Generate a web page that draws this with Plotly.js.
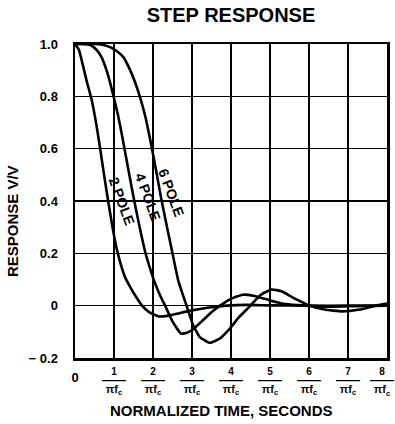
<!DOCTYPE html>
<html><head><meta charset="utf-8">
<script src="https://cdn.plot.ly/plotly-3.0.1.min.js"></script>
<style>html,body{margin:0;padding:0;background:#fff}</style>
</head><body><div id="chart" style="width:395px;height:424px"></div>
<script>
// Normalized time (units of 1/(pi*fc)) and response V/V
const time2 = [0, 0.1, 0.2, 0.3, 0.43, 0.55, 0.65, 0.75, 0.85, 0.95, 1.05, 1.15, 1.28, 1.42, 1.56, 1.72, 1.9, 2.15, 2.4, 2.7, 3.0, 3.4, 3.9, 4.4, 5.0, 6.0, 7.0, 8.0];
const resp2 = [1.0, 0.978, 0.92, 0.858, 0.785, 0.69, 0.595, 0.495, 0.4, 0.31, 0.23, 0.17, 0.11, 0.07, 0.035, 0.0, -0.025, -0.041, -0.038, -0.028, -0.018, -0.008, 0.0, 0.003, 0.001, 0.0, 0.0, 0.0];

const time4 = [0, 0.2, 0.4, 0.55, 0.68, 0.85, 0.98, 1.1, 1.2, 1.3, 1.4, 1.5, 1.65, 1.8, 1.93, 2.05, 2.18, 2.31, 2.5, 2.72, 2.88, 3.03, 3.25, 3.5, 3.72, 4.0, 4.3, 4.6, 5.0, 5.4, 5.9, 6.5, 7.2, 8.0];
const resp4 = [1.0, 1.0, 0.995, 0.978, 0.95, 0.88, 0.805, 0.73, 0.655, 0.575, 0.495, 0.415, 0.305, 0.205, 0.14, 0.087, 0.04, 0.0, -0.06, -0.107, -0.103, -0.09, -0.06, -0.025, 0.0, 0.026, 0.042, 0.037, 0.02, 0.006, 0.0, -0.004, -0.002, 0.0];

const time6 = [0, 0.5, 0.7, 0.9, 1.05, 1.24, 1.4, 1.55, 1.67, 1.8, 1.9, 2.0, 2.1, 2.21, 2.36, 2.5, 2.65, 2.86, 3.03, 3.2, 3.46, 3.72, 3.97, 4.2, 4.5, 4.75, 5.04, 5.3, 5.6, 6.03, 6.4, 6.85, 7.3, 7.7, 8.0];
const resp6 = [1.0, 1.0, 0.997, 0.988, 0.975, 0.95, 0.905, 0.85, 0.795, 0.725, 0.655, 0.58, 0.5, 0.41, 0.3, 0.2, 0.095, 0.0, -0.075, -0.12, -0.142, -0.125, -0.088, -0.045, 0.0, 0.04, 0.062, 0.055, 0.03, 0.0, -0.015, -0.022, -0.015, 0.0, 0.008];

const seriesNames = ['2 POLE', '4 POLE', '6 POLE'];
const xTickVals = [1, 2, 3, 4, 5, 6, 7];
const xTickNumerators = ['1', '2', '3', '4', '5', '6', '7'];
const xLastTickVal = [8];
const xLastNumerator = ['8'];
const xZeroLabel = ['0'];
const yTickVals = [-0.2, 0, 0.2, 0.4, 0.6, 0.8, 1.0];
const yTickLabels = ['\u2212 0.2', '0', '0.2', '0.4', '0.6', '0.8', '1.0'];
const chartTitle = 'STEP RESPONSE';
const xTitle = 'NORMALIZED TIME, SECONDS';
const yTitle = 'RESPONSE V/V';

const FONT = 'Liberation Sans, Arial, Helvetica, sans-serif';

const fraction = n =>
  '<span style="font-size:10px">' + n + '</span><br>' +
  '<span style="font-size:12px">\u2014\u2014</span><br>' +
  '<span style="font-size:11px">\u03c0f<sub>c</sub></span>';

const lineStyle = {color: '#000', width: 2.6, shape: 'spline', smoothing: 0.4};
const traces = [[time2, resp2], [time4, resp4], [time6, resp6]].map((d, i) => ({
  x: d[0], y: d[1], type: 'scatter', mode: 'lines', name: seriesNames[i],
  line: lineStyle, hoverinfo: 'skip', showlegend: false
}));

const labelPos = [[1.2, 0.40], [1.87, 0.415], [2.47, 0.43]];
const annotations = seriesNames.map((s, i) => ({
  x: labelPos[i][0], y: labelPos[i][1], xref: 'x', yref: 'y', text: s,
  showarrow: false, textangle: 70, font: {family: FONT, size: 14, color: '#000', weight: 'bold'}
}));
annotations.push({
  xref: 'paper', yref: 'paper', x: -0.202, y: 0.436, xanchor: 'center', yanchor: 'middle',
  text: yTitle, showarrow: false, textangle: -90,
  font: {family: FONT, size: 15, color: '#000', weight: 'bold'}
});
annotations.push({
  xref: 'paper', yref: 'paper', x: 0.468, y: -0.168, xanchor: 'center', yanchor: 'middle',
  text: xTitle, showarrow: false,
  font: {family: FONT, size: 15, color: '#000', weight: 'bold'}
});

const axisCommon = {
  showline: true, mirror: true, linecolor: '#000', linewidth: 2.5,
  showgrid: true, gridcolor: '#000', gridwidth: 1.6, zeroline: false,
  ticks: '', fixedrange: true
};
const XRANGE = [0, 8.0005];
const overlayAxis = {
  overlaying: 'x', anchor: 'y', side: 'bottom', range: XRANGE, showgrid: false, zeroline: false,
  showline: false, ticks: '', tickmode: 'array', fixedrange: true
};

const layout = {
  width: 395, height: 424,
  margin: {l: 75, r: 8, t: 44, b: 66},
  paper_bgcolor: '#fff', plot_bgcolor: '#fff',
  showlegend: false,
  title: {text: chartTitle, x: 0.5, xref: 'paper', y: 0.965, yref: 'container', yanchor: 'middle',
          font: {family: FONT, size: 20, color: '#000', weight: 'bold'}},
  xaxis: Object.assign({}, axisCommon, {
    range: XRANGE, tickmode: 'array', tickvals: xTickVals.concat(xLastTickVal),
    ticktext: xTickNumerators.map(fraction).concat(['']),
    ticklabelstandoff: 6,
    tickfont: {family: FONT, size: 7, color: '#000', weight: 'bold'}
  }),
  xaxis2: Object.assign({}, overlayAxis, {
    tickvals: [0], ticktext: xZeroLabel, ticklabelstandoff: 10,
    tickfont: {family: FONT, size: 13, color: '#000', weight: 'bold'}
  }),
  xaxis3: Object.assign({}, overlayAxis, {
    tickvals: xLastTickVal, ticktext: xLastNumerator.map(fraction),
    ticklabelstandoff: 9, ticklabelshift: -5,
    tickfont: {family: FONT, size: 7, color: '#000', weight: 'bold'}
  }),
  yaxis: Object.assign({}, axisCommon, {
    range: [-0.2, 1.0], tickmode: 'array', tickvals: yTickVals, ticktext: yTickLabels,
    ticklabelstandoff: 12,
    tickfont: {family: FONT, size: 13, color: '#000', weight: 'bold'}
  }),
  annotations: annotations
};

traces.push({x: [0], y: [0], xaxis: 'x2', type: 'scatter', mode: 'markers',
  marker: {opacity: 0}, hoverinfo: 'skip', showlegend: false});
traces.push({x: [0], y: [0], xaxis: 'x3', type: 'scatter', mode: 'markers',
  marker: {opacity: 0}, hoverinfo: 'skip', showlegend: false});

Plotly.newPlot('chart', traces, layout, {displayModeBar: false, staticPlot: true});
</script></body></html>
